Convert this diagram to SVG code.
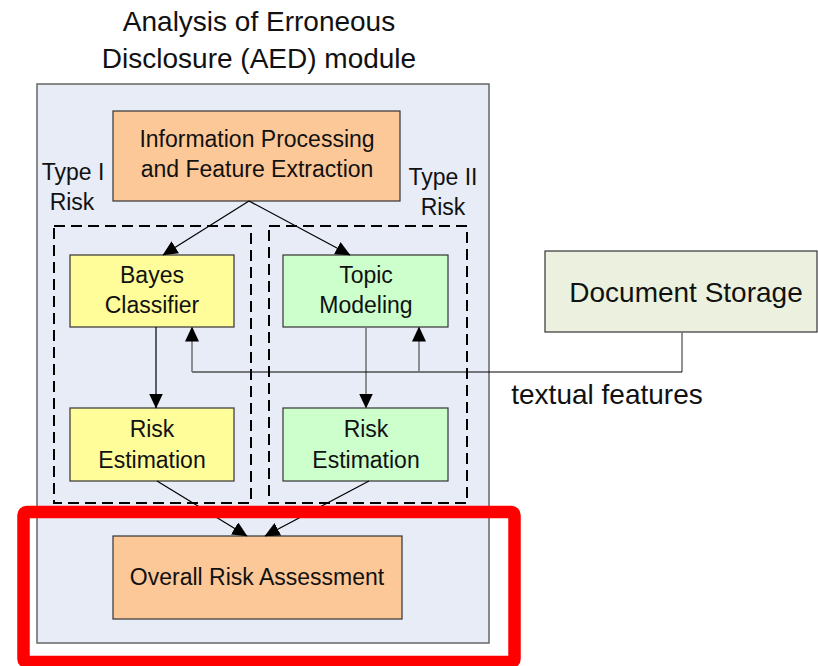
<svg xmlns="http://www.w3.org/2000/svg" width="818" height="666" viewBox="0 0 818 666">
  <defs>
    <marker id="arrow" markerUnits="userSpaceOnUse" markerWidth="15" markerHeight="14" viewBox="0 0 15 14" refX="14.5" refY="7" orient="auto">
      <path d="M0,0 L15,7 L0,14 Z" fill="#000"/>
    </marker>
    <style>
      text { font-family: "Liberation Sans", Arial, sans-serif; fill: #111; text-anchor: middle; }
      .t28 { font-size: 28px; }
      .t23 { font-size: 23px; }
      .box { stroke: #333; stroke-width: 1.2; }
      .orange { fill: #fdc898; }
      .yellow { fill: #fffd99; }
      .green { fill: #ccffcc; }
      .dash { fill: none; stroke: #000; stroke-width: 2; stroke-dasharray: 11 6; }
      .ln { fill: none; stroke: #000; stroke-width: 1.2; }
      .gray { fill: none; stroke: #777; stroke-width: 1.6; }
    </style>
  </defs>

  <rect width="818" height="666" fill="#fff"/>

  <!-- module frame and title -->
  <g id="aed-module">
    <text class="t28" x="259" y="31">Analysis of Erroneous</text>
    <text class="t28" x="259" y="68">Disclosure (AED) module</text>
    <rect x="37" y="84" width="452" height="559" fill="#e7ecf7" stroke="#666" stroke-width="1.5"/>
  </g>

  <!-- risk type groupings -->
  <g id="type1-risk">
    <rect class="dash" x="54" y="226" width="197" height="277"/>
    <text class="t23" x="73" y="180">Type I</text>
    <text class="t23" x="72" y="210">Risk</text>
  </g>
  <g id="type2-risk">
    <rect class="dash" x="269" y="226" width="198" height="277"/>
    <text class="t23" x="443" y="185">Type II</text>
    <text class="t23" x="443" y="215">Risk</text>
  </g>

  <g id="info-processing">
    <rect class="box orange" x="113" y="111" width="287" height="90"/>
    <text class="t23" x="257" y="147">Information Processing</text>
    <text class="t23" x="257" y="177">and Feature Extraction</text>
  </g>

  <g id="bayes-classifier">
    <rect class="box yellow" x="70" y="255" width="164" height="72"/>
    <text class="t23" x="152" y="283">Bayes</text>
    <text class="t23" x="152" y="313">Classifier</text>
  </g>

  <g id="topic-modeling">
    <rect class="box green" x="283" y="255" width="165" height="72"/>
    <text class="t23" x="366" y="283">Topic</text>
    <text class="t23" x="366" y="313">Modeling</text>
  </g>

  <g id="risk-estimation-1">
    <rect class="box yellow" x="70" y="408" width="164" height="73"/>
    <text class="t23" x="152" y="437">Risk</text>
    <text class="t23" x="152" y="468">Estimation</text>
  </g>

  <g id="risk-estimation-2">
    <rect class="box green" x="283" y="408" width="165" height="73"/>
    <text class="t23" x="366" y="437">Risk</text>
    <text class="t23" x="366" y="468">Estimation</text>
  </g>

  <g id="overall-risk">
    <rect class="box orange" x="113" y="536" width="289" height="83"/>
    <text class="t23" x="257" y="585">Overall Risk Assessment</text>
  </g>

  <g id="document-storage">
    <rect class="box" x="545" y="251" width="272" height="81" fill="#ebf1de"/>
    <text class="t28" x="686" y="302">Document Storage</text>
  </g>

  <text id="textual-features" class="t28" x="607" y="404">textual features</text>

  <!-- connectors -->
  <g id="connectors">
    <line class="ln" x1="249" y1="201" x2="163" y2="255" marker-end="url(#arrow)"/>
    <line class="ln" x1="249" y1="201" x2="350" y2="255" marker-end="url(#arrow)"/>
    <line class="ln" x1="156" y1="327" x2="156" y2="408" marker-end="url(#arrow)"/>
    <line class="gray" x1="366" y1="327" x2="366" y2="408" marker-end="url(#arrow)"/>
    <polyline class="gray" points="682,332 682,372"/>
    <line class="ln" x1="682" y1="372" x2="192" y2="372"/>
    <line class="gray" x1="192" y1="372" x2="192" y2="327" marker-end="url(#arrow)"/>
    <line class="gray" x1="419" y1="372" x2="419" y2="327" marker-end="url(#arrow)"/>
    <line class="ln" x1="157" y1="481" x2="247" y2="536" marker-end="url(#arrow)"/>
    <line class="ln" x1="369" y1="481" x2="265" y2="536" marker-end="url(#arrow)"/>
  </g>

  <!-- highlight frame -->
  <rect id="highlight" x="23.5" y="512" width="491" height="150" rx="3" fill="none" stroke="#ff0000" stroke-width="12.5"/>
</svg>
